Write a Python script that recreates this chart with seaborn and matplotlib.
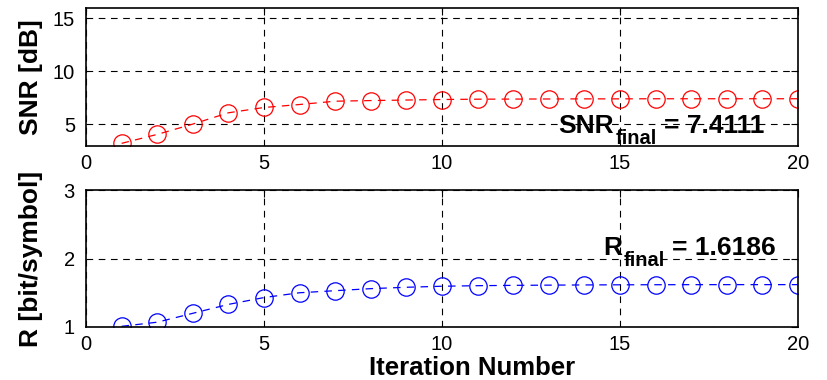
import numpy as np
import pandas as pd
import seaborn as sns
import matplotlib
matplotlib.use("Agg")
import matplotlib.pyplot as plt

sns.set_style("white")
plt.rcParams["font.family"] = ["Liberation Sans", "DejaVu Sans"]
plt.rcParams["text.color"] = "black"
plt.rcParams["axes.labelcolor"] = "black"
plt.rcParams["xtick.color"] = "black"
plt.rcParams["ytick.color"] = "black"

iterations = list(range(1, 21))
snr_db = [3.22, 4.06, 5.03, 6.09, 6.59, 6.87, 7.18, 7.24, 7.29, 7.34,
          7.37, 7.38, 7.39, 7.40, 7.40, 7.41, 7.41, 7.41, 7.411, 7.4111]
rate = [1.01, 1.07, 1.20, 1.33, 1.43, 1.50, 1.53, 1.56, 1.58, 1.595,
        1.603, 1.608, 1.611, 1.614, 1.616, 1.617, 1.618, 1.6183, 1.6185, 1.6186]
snr_final = 7.4111
rate_final = 1.6186

df = pd.DataFrame({"iter": iterations, "snr": snr_db, "rate": rate})

W, H = 827, 380
fig = plt.figure(figsize=(W / 100, H / 100), dpi=100)
ax1 = fig.add_axes([86 / W, 1 - 146 / H, 712 / W, 138 / H])
ax2 = fig.add_axes([86 / W, 1 - 327 / H, 712 / W, 137 / H])

DASH = (0, (6, 5))


def style_axes(ax, yticks, ylim):
    ax.set_xlim(0, 20)
    ax.set_ylim(*ylim)
    ax.set_xticks([0, 5, 10, 15, 20])
    ax.set_yticks(yticks)
    ax.grid(True, color="black", linestyle=DASH, linewidth=0.8)
    ax.tick_params(direction="in", length=5, width=0.8, top=True, right=True,
                   labelsize=14.5, colors="black", pad=8)
    ax.tick_params(axis="x", pad=6)
    for sp in ax.spines.values():
        sp.set_color("black")
        sp.set_linewidth(1.2)
    ax.set_axisbelow(True)


def draw_series(ax, col, color):
    sns.lineplot(data=df, x="iter", y=col, ax=ax, color=color,
                 linewidth=0.9, marker="o", markersize=12.5,
                 markerfacecolor="none", markeredgecolor=color,
                 markeredgewidth=0.9)
    ax.lines[0].set_linestyle(DASH)


def final_label(ax, x, y, name, value):
    """Bold 'name_final = value' label with a real subscript."""
    fig.canvas.draw()
    t1 = ax.text(x, y, name, fontsize=19, fontweight="bold", va="baseline")
    fig.canvas.draw()
    bb = t1.get_window_extent()
    base = ax.transData.transform((x, y))[1]
    t2 = fig.text((bb.x1 + 2) / W, (base - 11) / H, "final", fontsize=14.5,
                  fontweight="bold", va="baseline")
    fig.canvas.draw()
    bb2 = t2.get_window_extent()
    fig.text((bb2.x1 + 7) / W, base / H, f"= {value:.4f}", fontsize=19,
             fontweight="bold", va="baseline")


draw_series(ax1, "snr", "red")
style_axes(ax1, [5, 10, 15], (2.97, 15.94))
ax1.set_xlabel("")
ax1.set_ylabel("SNR [dB]", fontsize=19, fontweight="bold")
ax1.yaxis.set_label_coords(-0.060, 0.5)

draw_series(ax2, "rate", "blue")
style_axes(ax2, [1, 2, 3], (1, 3))
ax2.set_ylabel("R [bit/symbol]", fontsize=19, fontweight="bold")
ax2.yaxis.set_label_coords(-0.060, 0.5)
ax2.set_xlabel("Iteration Number", fontsize=18.5, fontweight="bold")
ax2.xaxis.set_label_coords(0.542, -0.350)
ax2.xaxis.label.set_va("baseline")

final_label(ax1, 13.26, 4.19, "SNR", snr_final)
final_label(ax2, 14.52, 2.05, "R", rate_final)

fig.savefig("out.png", dpi=100, facecolor="white")
